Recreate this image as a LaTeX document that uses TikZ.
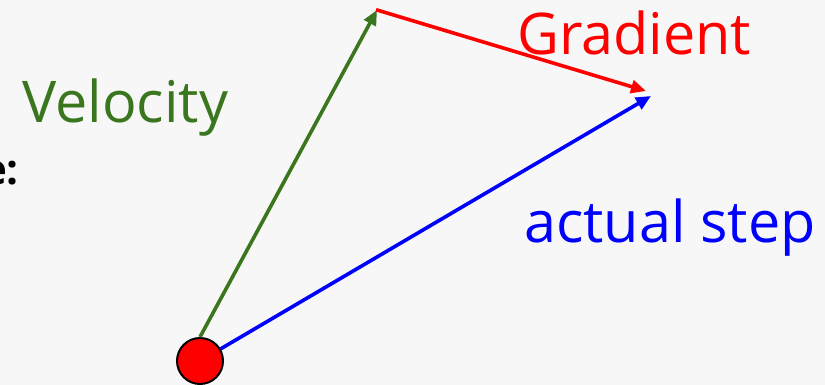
\documentclass[tikz,border=0pt]{standalone}
\usepackage{fontspec}
\setmainfont{Open Sans}
\usepackage{xcolor}
\usetikzlibrary{arrows.meta,positioning}
\definecolor{velGreen}{RGB}{58,118,30}
\definecolor{bgGray}{RGB}{247,247,247}

\begin{document}
\begin{tikzpicture}[
            x=1pt, y=-1pt,
            vec/.style={line width=3.6pt, -{Triangle[length=15pt,width=13pt]}},
            lbl/.style={inner sep=0pt, anchor=base west, font=\fontsize{57.5}{60}\selectfont}
        ]
            \fill[bgGray] (0,0) rectangle (825,385);
            \useasboundingbox (0,0) rectangle (825,385);
            
            \node[circle, draw=black, line width=2pt, fill=red, minimum size=46pt, inner sep=0pt] (ball) at (200,361) {};
            \coordinate (vtip) at (377,10);
            \coordinate (gtip) at (646,91);
            \coordinate (stip) at (651,96);
            
            \draw[vec, velGreen] (ball.north) -- (vtip);
            \draw[vec, red, shorten <=-1pt] (vtip) -- (gtip);
            \draw[vec, blue] (ball) -- (stip);
            
            \node[lbl, text=velGreen] (vel) at (22,123) {Velocity};
            \node[lbl, text=red] (grad) at (517,55) {Gradient};
            \node[lbl, text=blue] (step) at (524,242) {actual step};
            \node[inner sep=0pt, anchor=base east, font=\fontsize{42}{44}\selectfont\bfseries] (colon) at (19,185) {e:};
        \end{tikzpicture}
\end{document}
